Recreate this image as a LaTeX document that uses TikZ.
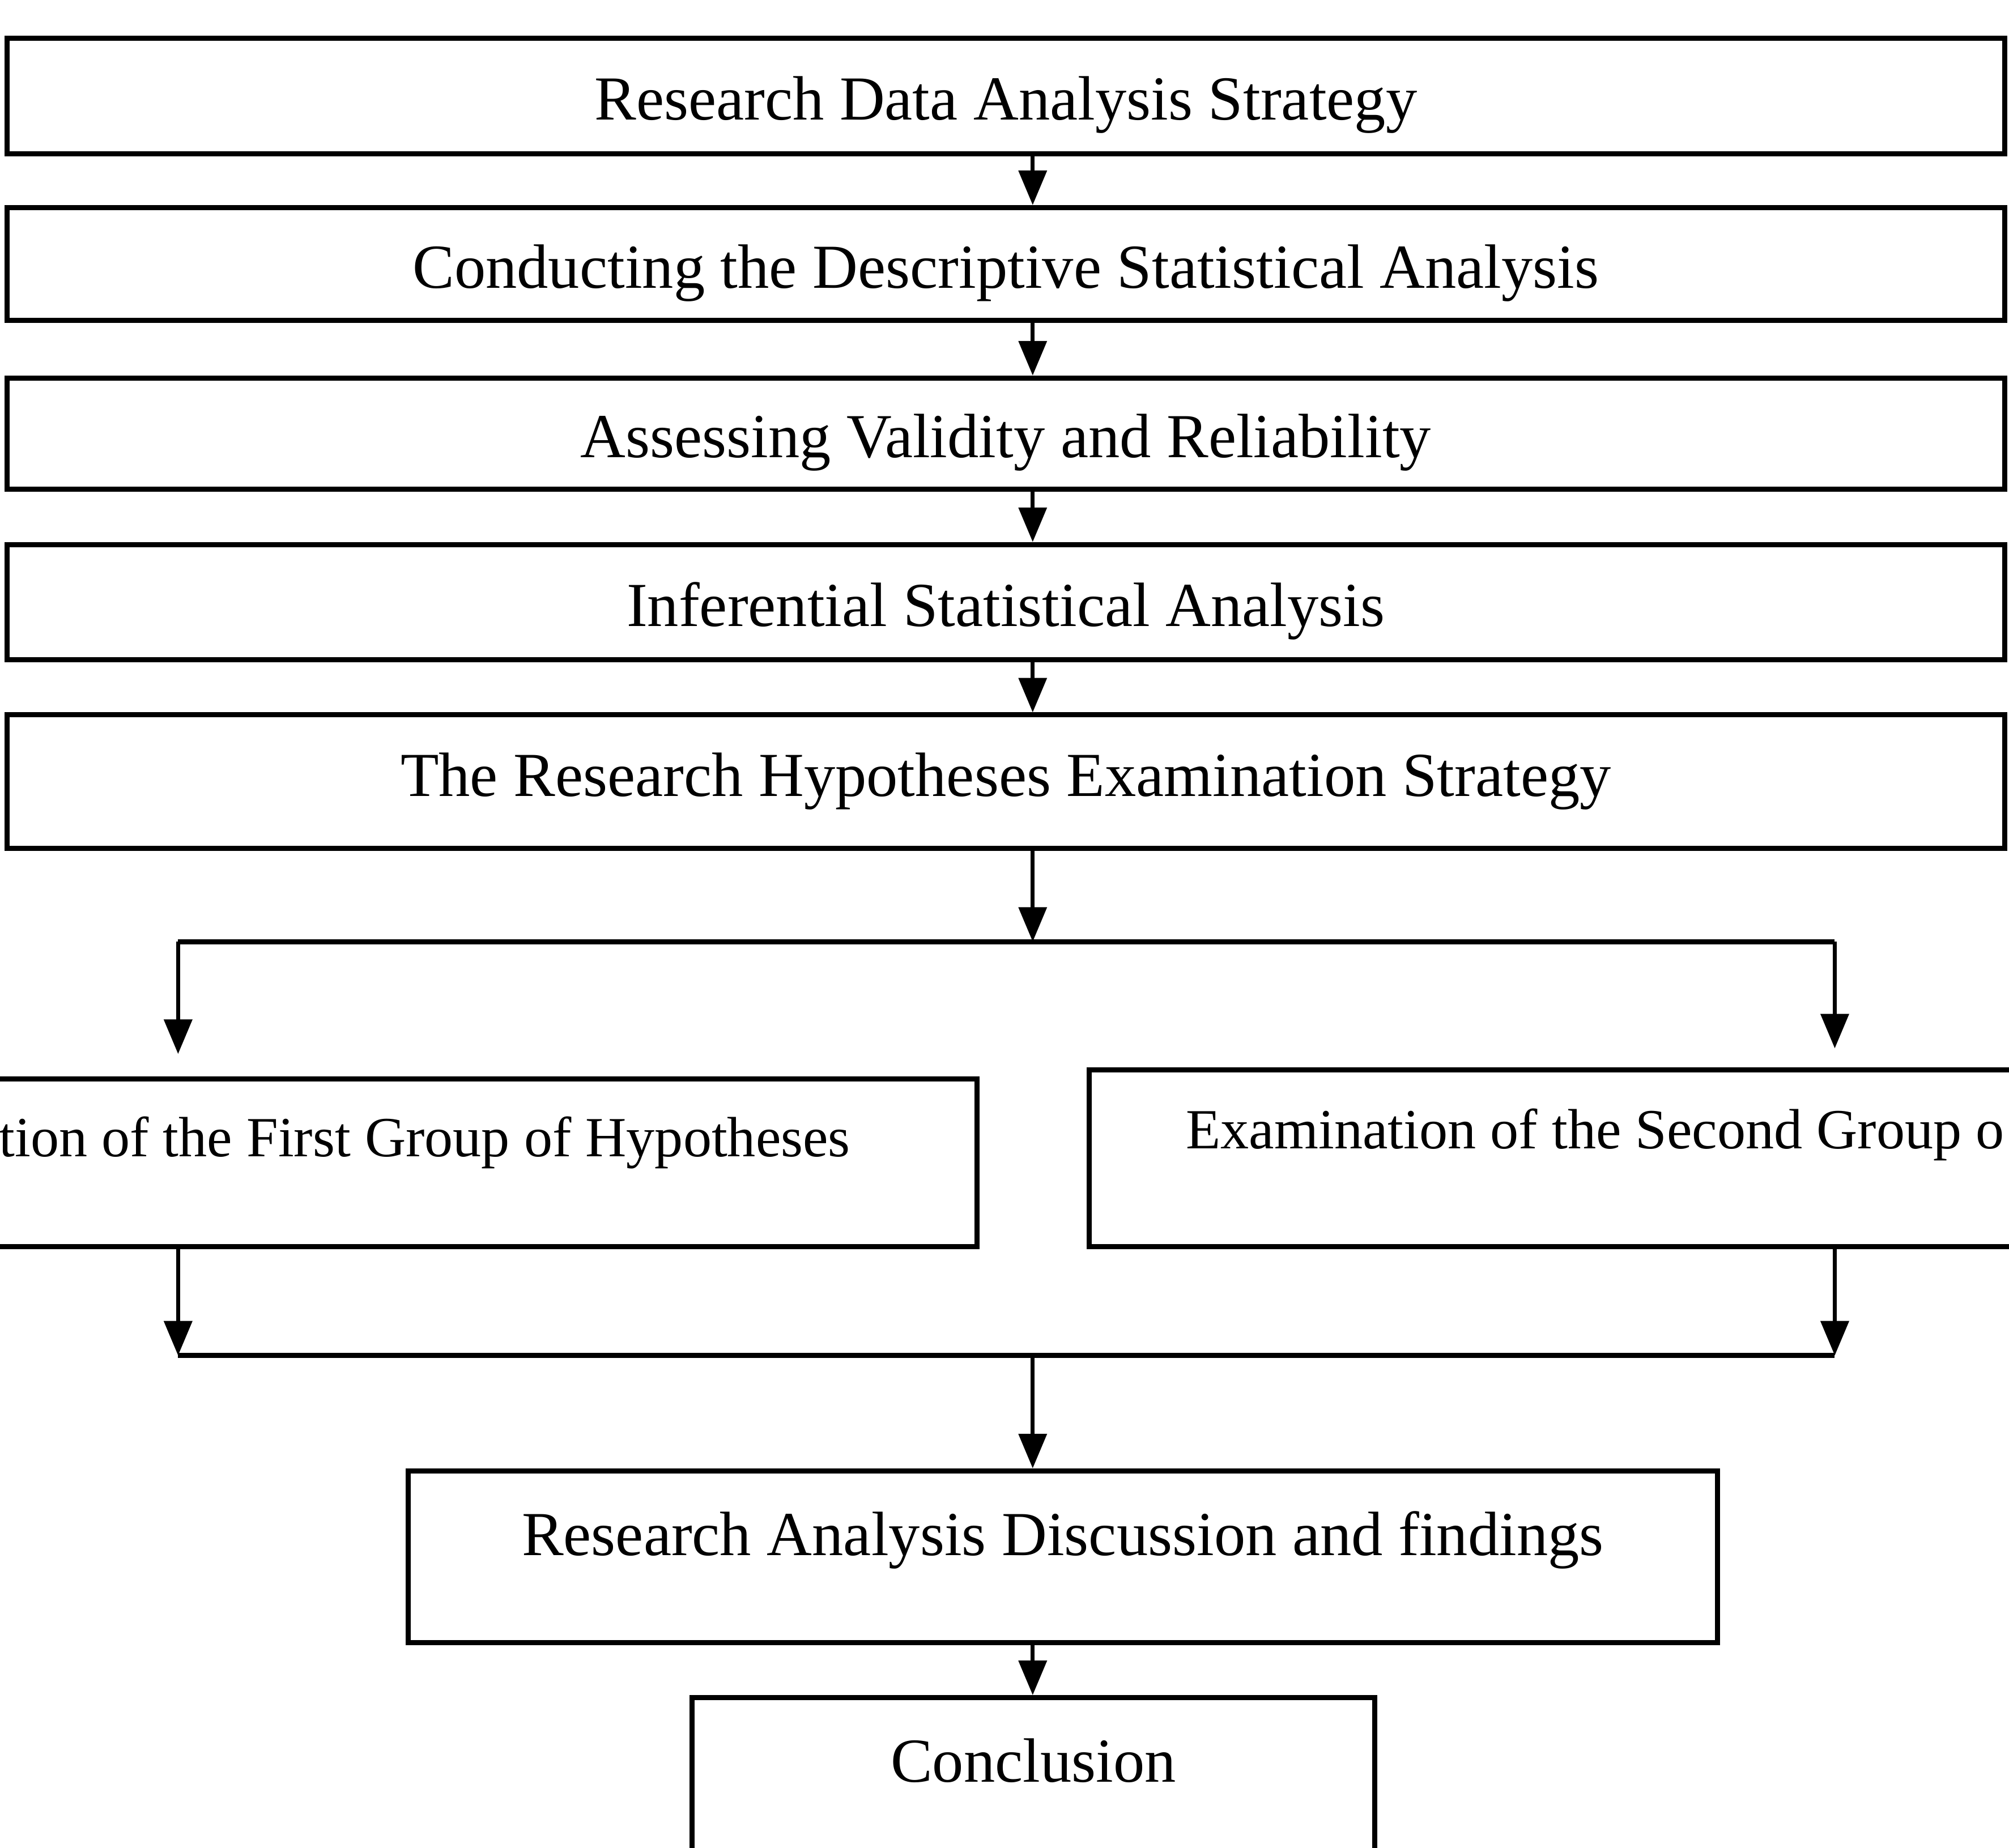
\documentclass[tikz,border=0pt]{standalone}
\usepackage{fontspec}
\setmainfont{Liberation Serif}
\usetikzlibrary{arrows.meta}

\begin{document}
\begin{tikzpicture}[x=0.0115cm,y=-0.0115cm,
    >={Triangle[length=0.31cm,width=0.25cm]},
    box/.style={draw,line width=1.3pt,inner sep=0pt,font=\fontsize{16}{19}\selectfont},
    stagebox/.style={box,minimum width=17.94cm,text height=0.55cm,text depth=0.12cm},
    groupbox/.style={box,font=\fontsize{14.5}{17}\selectfont},
    link/.style={->,line width=1pt},
    bar/.style={line width=1.3pt}]
  \useasboundingbox (0,0) rectangle (1568,1442);
  \clip (0,0) rectangle (1568,1442);
  % main chain
  \node[stagebox,minimum height=1.035cm] (b1) at (785,75) {Research Data Analysis Strategy};
  \node[stagebox,minimum height=1.012cm] (b2) at (785,206) {Conducting the Descriptive Statistical Analysis};
  \node[stagebox,minimum height=1.0cm] (b3) at (785,338.5) {Assessing Validity and Reliability};
  \node[stagebox,minimum height=1.035cm] (b4) at (785,470) {Inferential Statistical Analysis};
  \node[box,minimum width=17.94cm,minimum height=1.196cm] (b5) at (785,610) {The Research Hypotheses Examination Strategy};
  % the two groups
  \node[groupbox,minimum width=9.92cm,minimum height=1.507cm,text height=0.4cm,text depth=0.51cm] (g1) at (331.5,907.5) {tion of the First Group of Hypotheses};
  \node[groupbox,minimum width=9.085cm,minimum height=1.587cm,text height=0.4cm,text depth=0.57cm] (g2) at (1245,904) {Examination of the Second Group o};
  % end
  \node[box,minimum width=11.76cm,minimum height=1.541cm,text height=0.45cm,text depth=0.47cm] (d) at (829.5,1215) {Research Analysis Discussion and findings};
  \node[box,minimum width=6.13cm,minimum height=1.84cm,text height=0.45cm,text depth=0.77cm] (c) at (806.5,1405) {Conclusion};

  \coordinate (axis) at (806,0);
  \coordinate (split) at (806,735);
  \coordinate (splitL) at (139,735);
  \coordinate (splitR) at (1432,735);
  \coordinate (merge) at (806,1058);
  \coordinate (mergeL) at (139,1058);
  \coordinate (mergeR) at (1432,1058);

  \draw[link] (b1.south -| axis) -- (b2.north -| axis);
  \draw[link] (b2.south -| axis) -- (b3.north -| axis);
  \draw[link] (b3.south -| axis) -- (b4.north -| axis);
  \draw[link] (b4.south -| axis) -- (b5.north -| axis);
  \draw[link] (b5.south -| axis) -- (split);
  \draw[bar] (splitL) -- (splitR);
  \draw[link,shorten >=0.2cm] (splitL) -- (g1.north -| splitL);
  \draw[link,shorten >=0.17cm] (splitR) -- (g2.north -| splitR);
  \draw[link] (g1.south -| mergeL) -- (mergeL);
  \draw[link] (g2.south -| mergeR) -- (mergeR);
  \draw[bar] (mergeL) -- (mergeR);
  \draw[link] (merge) -- (d.north -| axis);
  \draw[link] (d.south -| axis) -- (c.north -| axis);
\end{tikzpicture}
\end{document}
